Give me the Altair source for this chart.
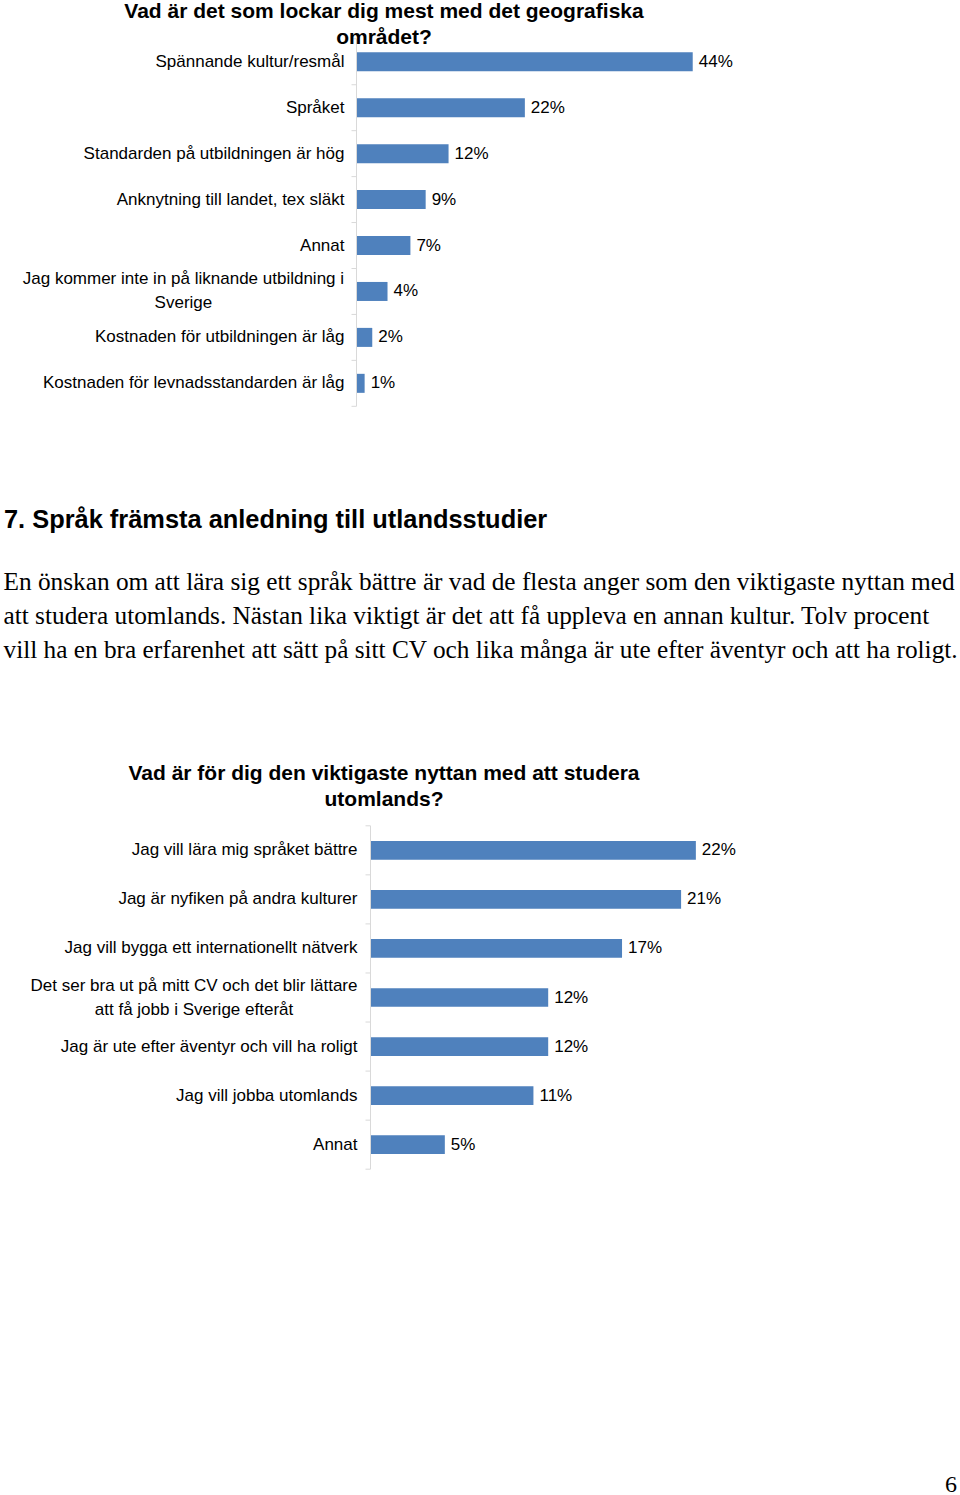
import altair as alt
import pandas as pd

BLUE = "#4F81BD"
SANS = "Liberation Sans"
SERIF = "Liberation Serif"
GRAY = "#D9D9D9"

# ---- chart 1 data ----
title1 = ["Vad är det som lockar dig mest med det geografiska", "området?"]
cats1 = [
    "Spännande kultur/resmål",
    "Språket",
    "Standarden på utbildningen är hög",
    "Anknytning till landet, tex släkt",
    "Annat",
    "Jag kommer inte in på liknande utbildning i|Sverige",
    "Kostnaden för utbildningen är låg",
    "Kostnaden för levnadsstandarden är låg",
]
vals1 = [0.44, 0.22, 0.12, 0.09, 0.07, 0.04, 0.02, 0.01]

# ---- text block ----
heading = "7. Språk främsta anledning till utlandsstudier"
paragraph = [
    "En önskan om att lära sig ett språk bättre är vad de flesta anger som den viktigaste nyttan med",
    "att studera utomlands. Nästan lika viktigt är det att få uppleva en annan kultur. Tolv procent",
    "vill ha en bra erfarenhet att sätt på sitt CV och lika många är ute efter äventyr och att ha roligt.",
]

# ---- chart 2 data ----
title2 = ["Vad är för dig den viktigaste nyttan med att studera", "utomlands?"]
cats2 = [
    "Jag vill lära mig språket bättre",
    "Jag är nyfiken på andra kulturer",
    "Jag vill bygga ett internationellt nätverk",
    "Det ser bra ut på mitt CV och det blir lättare|att få jobb i Sverige efteråt",
    "Jag är ute efter äventyr och vill ha roligt",
    "Jag vill jobba utomlands",
    "Annat",
]
vals2 = [0.22, 0.21, 0.17, 0.12, 0.12, 0.11, 0.05]

page_number = "6"

W, H = 960, 1495


def text_layer(txt, x, y, font=SANS, size=17, weight="normal", align="left"):
    return alt.Chart(pd.DataFrame({"t": [txt]})).mark_text(
        font=font, fontSize=size, fontWeight=weight, align=align,
        baseline="alphabetic", color="#000000",
    ).encode(x=alt.value(x), y=alt.value(y), text="t:N")


def bar_chart(cats, vals, tlines, tys, band_range, pi, x_range, x_max,
              axis_x, gap, wrap_center):
    df = pd.DataFrame({"cat": cats, "v": vals,
                       "two": ["|" in c for c in cats]})
    n = len(cats)
    step = (band_range[1] - band_range[0]) / n
    scale = alt.Scale(range=band_range, paddingInner=pi, paddingOuter=pi / 2)

    def Y():
        return alt.Y("cat:N", sort=cats, title=None, scale=scale, axis=None)

    x = alt.X("v:Q", scale=alt.Scale(domain=[0, x_max], range=x_range), axis=None)
    base = alt.Chart(df)

    bars = base.mark_bar(color=BLUE).encode(x=x, y=Y())
    values = base.mark_text(
        align="left", baseline="middle", dx=6, font=SANS, fontSize=17, color="#000000"
    ).encode(x=x, y=Y(), text=alt.Text("v:Q", format=".0%"))

    # category labels (one line, right aligned next to the axis)
    cat_one = base.transform_filter("!datum.two").mark_text(
        align="right", baseline="middle", font=SANS, fontSize=17, color="#000000"
    ).encode(x=alt.value(axis_x - gap), y=Y(), text="cat:N")
    # wrapped category label (two lines centred on each other)
    cat_two = base.transform_filter("datum.two").mark_text(
        align="center", baseline="middle", font=SANS, fontSize=17, color="#000000",
        lineBreak="|", lineHeight=24, dy=-12,
    ).encode(x=alt.value(wrap_center), y=Y(), text="cat:N")

    # axis line and tick marks between the categories
    one = pd.DataFrame({"a": [0]})
    domain = alt.Chart(one).mark_rule(color=GRAY, strokeWidth=1).encode(
        x=alt.value(axis_x), y=alt.value(band_range[0]), y2=alt.value(band_range[1])
    )
    ticks = base.mark_rule(color=GRAY, strokeWidth=1, yOffset=-step / 2).encode(
        x=alt.value(axis_x - 5), x2=alt.value(axis_x), y=Y()
    )
    last_tick = alt.Chart(one).mark_rule(color=GRAY, strokeWidth=1).encode(
        x=alt.value(axis_x - 5), x2=alt.value(axis_x), y=alt.value(band_range[1])
    )

    titles = [
        text_layer(t, 384, ty, size=21, weight="bold", align="center")
        for t, ty in zip(tlines, tys)
    ]
    return alt.layer(domain, ticks, last_tick, bars, values, cat_one, cat_two, *titles)


c1 = bar_chart(cats1, vals1, title1, [17.5, 43.5], [38.8, 406.3], 0.586,
               [357, 738.5], 0.5, 356.5, 12, 183.4)

c2 = bar_chart(cats2, vals2, title2, [779.5, 806.3], [825.8, 1169.2], 0.619,
               [371, 814], 0.3, 370.5, 13, 194)

texts = [text_layer(heading, 4, 527.5, size=25.4, weight="bold")]
texts += [text_layer(line, 3.5, 589.5 + 34 * i, font=SERIF, size=25.3)
          for i, line in enumerate(paragraph)]
texts += [text_layer(page_number, 957, 1492, font=SERIF, size=24, align="right")]

chart = (
    alt.layer(c1, c2, *texts)
    .resolve_scale(x="independent", y="independent")
    .properties(
        width=W, height=H, padding=0, background="white",
        autosize=alt.AutoSizeParams(type="none"),
    )
    .configure_view(stroke="transparent")
)

chart.save("out.html", embed_options={"renderer": "svg", "actions": False})
